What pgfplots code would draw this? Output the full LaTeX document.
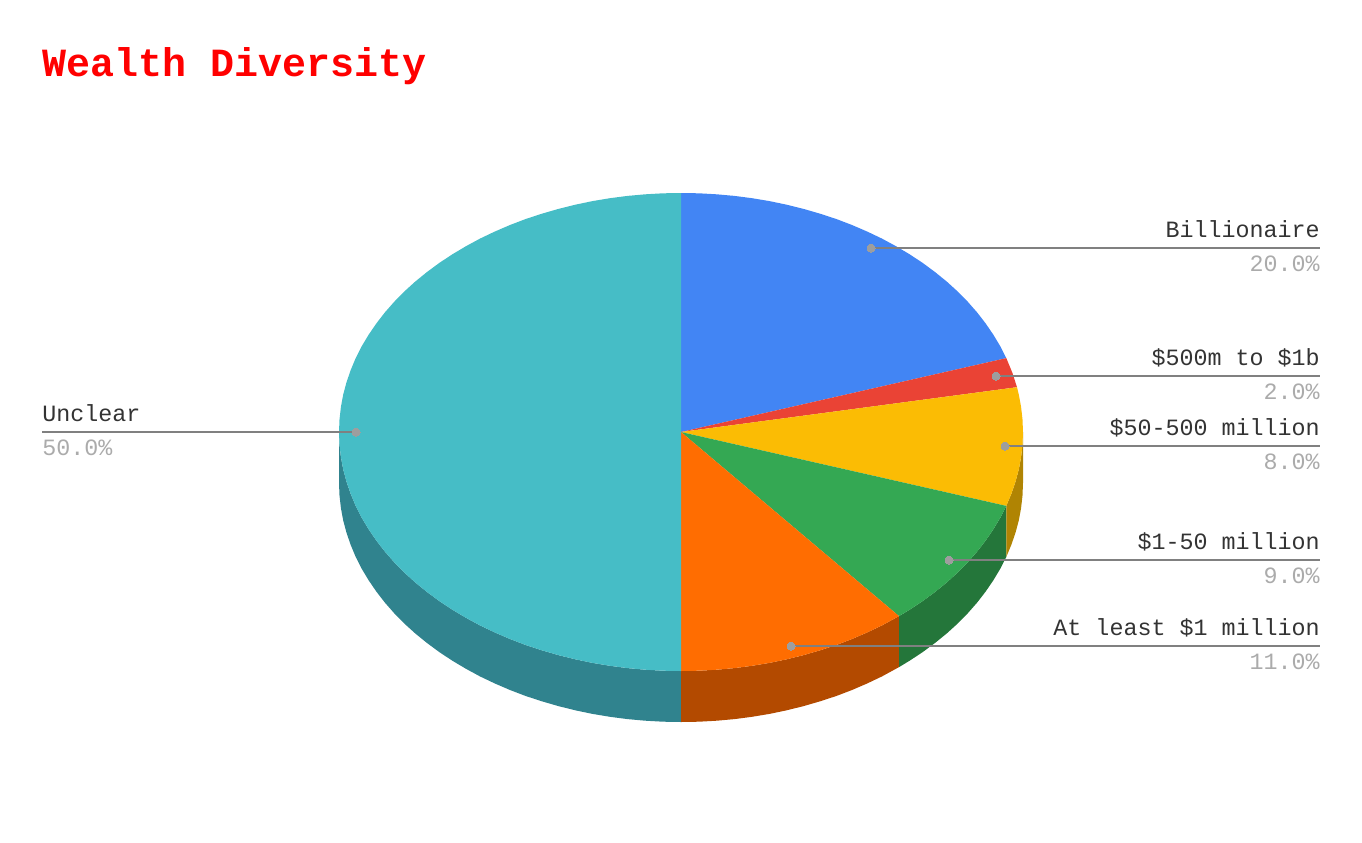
\documentclass[border=0pt]{standalone}
\usepackage{fontspec}
\setmainfont{Liberation Mono}
\usepackage{pgfplots}
\pgfplotsset{compat=1.18}
\definecolor{cblue}{HTML}{4285F4}
\definecolor{cred}{HTML}{EA4335}
\definecolor{cyel}{HTML}{FBBC04}
\definecolor{cgrn}{HTML}{34A853}
\definecolor{corg}{HTML}{FF6D01}
\definecolor{cteal}{HTML}{46BDC6}
\definecolor{dyel}{HTML}{B08403}
\definecolor{dgrn}{HTML}{24763A}
\definecolor{dorg}{HTML}{B34A00}
\definecolor{dteal}{HTML}{30838E}
\definecolor{lead}{HTML}{808080}
\definecolor{dotc}{HTML}{9E9E9E}
\definecolor{pct}{HTML}{ABABAB}
\definecolor{lab}{HTML}{333333}
\newcommand{\lbl}{\fontsize{11.67pt}{14pt}\selectfont}
\begin{document}
\begin{tikzpicture}
\useasboundingbox (0,0) rectangle (681pt,421pt);
\begin{axis}[
  at={(0,0)}, anchor=south west,
  scale only axis, width=681pt, height=421pt,
  xmin=0, xmax=1362, ymin=0, ymax=842, y dir=reverse,
  hide axis, clip=false,
  every axis plot/.append style={mark=none},
]
% side walls
\addplot[fill=dteal, draw=none] coordinates {(681,671)(663.1,670.7)(645.3,669.7)(627.5,668.1)(609.9,665.8)(592.5,662.9)(575.3,659.3)(558.4,655.1)(541.9,650.3)(525.7,645)(510,639)(494.7,632.4)(480,625.4)(465.8,617.7)(452.2,609.6)(439.2,601)(426.9,591.9)(415.2,582.4)(404.3,572.5)(394.2,562.2)(384.8,551.5)(376.3,540.5)(368.6,529.2)(361.7,517.7)(355.7,505.9)(350.7,493.9)(346.5,481.7)(343.2,469.4)(340.9,457)(339.5,444.5)(339,432)(339,483)(339.5,495.5)(340.9,508)(343.2,520.4)(346.5,532.7)(350.7,544.9)(355.7,556.9)(361.7,568.7)(368.6,580.2)(376.3,591.5)(384.8,602.5)(394.2,613.2)(404.3,623.5)(415.2,633.4)(426.9,642.9)(439.2,652)(452.2,660.6)(465.8,668.7)(480,676.4)(494.7,683.4)(510,690)(525.7,696)(541.9,701.3)(558.4,706.1)(575.3,710.3)(592.5,713.9)(609.9,716.8)(627.5,719.1)(645.3,720.7)(663.1,721.7)(681,722)};
\addplot[fill=dorg, draw=none] coordinates {(899,616.1)(882,625.4)(867.3,632.4)(852,639)(836.3,645)(820.1,650.3)(803.6,655.1)(786.7,659.3)(769.5,662.9)(752.1,665.8)(734.5,668.1)(716.7,669.7)(698.9,670.7)(681,671)(681,722)(698.9,721.7)(716.7,720.7)(734.5,719.1)(752.1,716.8)(769.5,713.9)(786.7,710.3)(803.6,706.1)(820.1,701.3)(836.3,696)(852,690)(867.3,683.4)(882,676.4)(899,667.1)};
\addplot[fill=dgrn, draw=none] coordinates {(1006.3,505.9)(1000.3,517.7)(993.4,529.2)(985.7,540.5)(977.2,551.5)(967.8,562.2)(957.7,572.5)(946.8,582.4)(935.1,591.9)(922.8,601)(909.8,609.6)(899,616.1)(899,667.1)(909.8,660.6)(922.8,652)(935.1,642.9)(946.8,633.4)(957.7,623.5)(967.8,613.2)(977.2,602.5)(985.7,591.5)(993.4,580.2)(1000.3,568.7)(1006.3,556.9)};
\addplot[fill=dyel, draw=none] coordinates {(1023,432)(1022.5,444.5)(1021.1,457)(1018.8,469.4)(1015.5,481.7)(1011.3,493.9)(1006.3,505.9)(1006.3,556.9)(1011.3,544.9)(1015.5,532.7)(1018.8,520.4)(1021.1,508)(1022.5,495.5)(1023,483)};
% top faces: Billionaire 20, $500m to $1b 2, $50-500 million 8, $1-50 million 9, At least $1 million 11, Unclear 50
\addplot[fill=cblue, draw=none] coordinates {(681,432)(681,193)(698.9,193.3)(716.7,194.3)(734.5,195.9)(752.1,198.2)(769.5,201.1)(786.7,204.7)(803.6,208.9)(820.1,213.7)(836.3,219)(852,225)(867.3,231.6)(882,238.6)(896.2,246.3)(909.8,254.4)(922.8,263)(935.1,272.1)(946.8,281.6)(957.7,291.5)(967.8,301.8)(977.2,312.5)(985.7,323.5)(993.4,334.8)(1000.3,346.3)(1006.3,358.1)};
\addplot[fill=cred, draw=none] coordinates {(681,432)(1006.3,358.1)(1012.3,372.6)(1017,387.2)};
\addplot[fill=cyel, draw=none] coordinates {(681,432)(1017,387.2)(1018.8,394.6)(1021.1,407)(1022.5,419.5)(1023,432)(1022.5,444.5)(1021.1,457)(1018.8,469.4)(1015.5,481.7)(1011.3,493.9)(1006.3,505.9)};
\addplot[fill=cgrn, draw=none] coordinates {(681,432)(1006.3,505.9)(1000.3,517.7)(993.4,529.2)(985.7,540.5)(977.2,551.5)(967.8,562.2)(957.7,572.5)(946.8,582.4)(935.1,591.9)(922.8,601)(909.8,609.6)(899,616.1)};
\addplot[fill=corg, draw=none] coordinates {(681,432)(899,616.1)(882,625.4)(867.3,632.4)(852,639)(836.3,645)(820.1,650.3)(803.6,655.1)(786.7,659.3)(769.5,662.9)(752.1,665.8)(734.5,668.1)(716.7,669.7)(698.9,670.7)(681,671)};
\addplot[fill=cteal, draw=none] coordinates {(681,432)(681,671)(663.1,670.7)(645.3,669.7)(627.5,668.1)(609.9,665.8)(592.5,662.9)(575.3,659.3)(558.4,655.1)(541.9,650.3)(525.7,645)(510,639)(494.7,632.4)(480,625.4)(465.8,617.7)(452.2,609.6)(439.2,601)(426.9,591.9)(415.2,582.4)(404.3,572.5)(394.2,562.2)(384.8,551.5)(376.3,540.5)(368.6,529.2)(361.7,517.7)(355.7,505.9)(350.7,493.9)(346.5,481.7)(343.2,469.4)(340.9,457)(339.5,444.5)(339,432)(339.5,419.5)(340.9,407)(343.2,394.6)(346.5,382.3)(350.7,370.1)(355.7,358.1)(361.7,346.3)(368.6,334.8)(376.3,323.5)(384.8,312.5)(394.2,301.8)(404.3,291.5)(415.2,281.6)(426.9,272.1)(439.2,263)(452.2,254.4)(465.8,246.3)(480,238.6)(494.7,231.6)(510,225)(525.7,219)(541.9,213.7)(558.4,208.9)(575.3,204.7)(592.5,201.1)(609.9,198.2)(627.5,195.9)(645.3,194.3)(663.1,193.3)(681,193)};
% leader lines
\addplot[lead, line width=1.2pt] coordinates {(871,248)(1320,248)};
\addplot[lead, line width=1.2pt] coordinates {(996,376)(1320,376)};
\addplot[lead, line width=1.2pt] coordinates {(1005,446)(1320,446)};
\addplot[lead, line width=1.2pt] coordinates {(949,560)(1320,560)};
\addplot[lead, line width=1.2pt] coordinates {(791,646)(1320,646)};
\addplot[lead, line width=1.2pt] coordinates {(42,432)(356,432)};
% leader dots
\addplot[only marks, mark=*, mark size=2pt, mark options={fill=dotc, draw=dotc, line width=0pt}] coordinates {(871,248)(996,376)(1005,446)(949,560)(791,646)(356,432)};
% title
\node[anchor=base west, inner sep=0pt, text=red, font=\fontsize{20pt}{24pt}\selectfont\bfseries] at (axis cs:42,76) {Wealth Diversity};
% right labels
\node[anchor=base east, inner sep=0pt, text=lab, font=\lbl] at (axis cs:1320,237) {Billionaire};
\node[anchor=base east, inner sep=0pt, text=pct, font=\lbl] at (axis cs:1320,271) {20.0\%};
\node[anchor=base east, inner sep=0pt, text=lab, font=\lbl] at (axis cs:1320,365) {\$500m to \$1b};
\node[anchor=base east, inner sep=0pt, text=pct, font=\lbl] at (axis cs:1320,399) {2.0\%};
\node[anchor=base east, inner sep=0pt, text=lab, font=\lbl] at (axis cs:1320,435) {\$50-500 million};
\node[anchor=base east, inner sep=0pt, text=pct, font=\lbl] at (axis cs:1320,469) {8.0\%};
\node[anchor=base east, inner sep=0pt, text=lab, font=\lbl] at (axis cs:1320,549) {\$1-50 million};
\node[anchor=base east, inner sep=0pt, text=pct, font=\lbl] at (axis cs:1320,583) {9.0\%};
\node[anchor=base east, inner sep=0pt, text=lab, font=\lbl] at (axis cs:1320,635) {At least \$1 million};
\node[anchor=base east, inner sep=0pt, text=pct, font=\lbl] at (axis cs:1320,669) {11.0\%};
% left label
\node[anchor=base west, inner sep=0pt, text=lab, font=\lbl] at (axis cs:42,421) {Unclear};
\node[anchor=base west, inner sep=0pt, text=pct, font=\lbl] at (axis cs:42,455) {50.0\%};
\end{axis}
\end{tikzpicture}
\end{document}
